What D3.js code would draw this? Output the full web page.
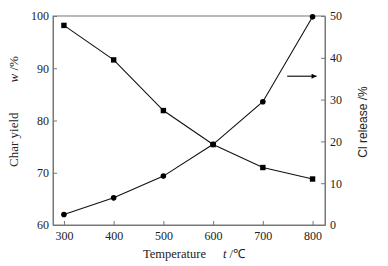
<!DOCTYPE html>
<html>
<head>
<meta charset="utf-8">
<script src="https://cdn.jsdelivr.net/npm/d3@7"></script>
<style>
body { margin: 0; background: #fff; }
text { font-family: "Liberation Serif", "Times New Roman", serif; fill: #222; }
</style>
</head>
<body>
<div id="chart"></div>
<script>
// data
var temps = [300, 400, 500, 600, 700, 800];
var charYield = [98.2, 91.6, 81.9, 75.4, 71.0, 68.8];
var clRelease = [2.5, 6.5, 11.7, 19.3, 29.5, 49.8];
var leftTicks = [60, 70, 80, 90, 100];
var rightTicks = [0, 10, 20, 30, 40, 50];

var margin = {top: 16, right: 63, bottom: 41, left: 53},
    width = 388 - margin.left - margin.right,
    height = 266 - margin.top - margin.bottom;

var svg = d3.select("#chart")
    .append("svg")
    .attr("width", 388)
    .attr("height", 266)
    .append("g")
    .attr("transform", "translate(" + margin.left + "," + margin.top + ")");

var x = d3.scaleLinear().domain([278, 825]).range([0, width]);
var yL = d3.scaleLinear().domain([60, 100]).range([height, 0]);
var yR = d3.scaleLinear().domain([0, 50]).range([height, 0]);

var axisColor = "#777";

// frame
svg.append("rect")
    .attr("width", width)
    .attr("height", height)
    .attr("fill", "none")
    .attr("stroke", axisColor)
    .attr("stroke-width", 1);

var xAxis = svg.append("g")
    .attr("transform", "translate(0," + height + ")")
    .call(d3.axisBottom(x).tickValues(temps).tickSizeInner(-4).tickSizeOuter(0).tickPadding(6));
var leftAxis = svg.append("g")
    .call(d3.axisLeft(yL).tickValues(leftTicks).tickSizeInner(-4).tickSizeOuter(0).tickPadding(4));
var rightAxis = svg.append("g")
    .attr("transform", "translate(" + width + ",0)")
    .call(d3.axisRight(yR).tickValues(rightTicks).tickSizeInner(-4).tickSizeOuter(0).tickPadding(5));

[xAxis, leftAxis, rightAxis].forEach(function (a) {
    a.select(".domain").attr("stroke", axisColor);
    a.selectAll(".tick line").attr("stroke", axisColor);
    a.selectAll(".tick text")
        .style("font-family", "Liberation Serif, serif")
        .style("font-size", "12px")
        .attr("fill", "#222");
});

// char yield line (squares)
var lineL = d3.line()
    .x(function (d, i) { return x(temps[i]); })
    .y(function (d) { return yL(d); });
svg.append("path")
    .datum(charYield)
    .attr("d", lineL)
    .attr("fill", "none")
    .attr("stroke", "#111")
    .attr("stroke-width", 1.1);
svg.selectAll(".sq")
    .data(charYield)
    .enter()
    .append("rect")
    .attr("x", function (d, i) { return x(temps[i]) - 2.7; })
    .attr("y", function (d) { return yL(d) - 2.7; })
    .attr("width", 5.4)
    .attr("height", 5.4)
    .attr("fill", "#000");

// Cl release line (circles)
var lineR = d3.line()
    .x(function (d, i) { return x(temps[i]); })
    .y(function (d) { return yR(d); });
svg.append("path")
    .datum(clRelease)
    .attr("d", lineR)
    .attr("fill", "none")
    .attr("stroke", "#111")
    .attr("stroke-width", 1.1);
svg.selectAll(".dot")
    .data(clRelease)
    .enter()
    .append("circle")
    .attr("cx", function (d, i) { return x(temps[i]); })
    .attr("cy", function (d) { return yR(d); })
    .attr("r", 2.8)
    .attr("fill", "#000");

// arrow pointing to right axis
svg.append("defs").append("marker")
    .attr("id", "arr")
    .attr("viewBox", "0 0 10 10")
    .attr("refX", 10)
    .attr("refY", 5)
    .attr("markerWidth", 7)
    .attr("markerHeight", 5)
    .attr("markerUnits", "userSpaceOnUse")
    .attr("orient", "auto")
    .append("path")
    .attr("d", "M0,0L10,5L0,10Z")
    .attr("fill", "#000");
svg.append("line")
    .attr("x1", x(749))
    .attr("x2", x(800) + 4)
    .attr("y1", yR(35.6))
    .attr("y2", yR(35.6))
    .attr("stroke", "#000")
    .attr("stroke-width", 1.1)
    .attr("marker-end", "url(#arr)");

// axis titles
var lt = svg.append("text")
    .attr("transform", "translate(" + (-35) + "," + (167 - margin.top) + ") rotate(-90)")
    .attr("text-anchor", "start")
    .style("font-size", "13px");
lt.append("tspan").text("Char yield");
lt.append("tspan").attr("dx", 30).style("font-style", "italic").text("w");
lt.append("tspan").text(" /%");

svg.append("text")
    .attr("transform", "translate(" + (width + 42) + "," + (122 - margin.top) + ") rotate(-90)")
    .attr("text-anchor", "middle")
    .style("font-family", "Liberation Sans, Arial, sans-serif")
    .style("font-size", "12px")
    .attr("fill", "#333")
    .text("Cl release /%");

var bt = svg.append("text")
    .attr("x", 143 - margin.left)
    .attr("y", height + 33)
    .attr("text-anchor", "start")
    .style("font-size", "12.5px");
bt.append("tspan").text("Temperature");
bt.append("tspan").attr("dx", 17).style("font-style", "italic").text("t");
bt.append("tspan").text(" /℃");
</script>
</body>
</html>
